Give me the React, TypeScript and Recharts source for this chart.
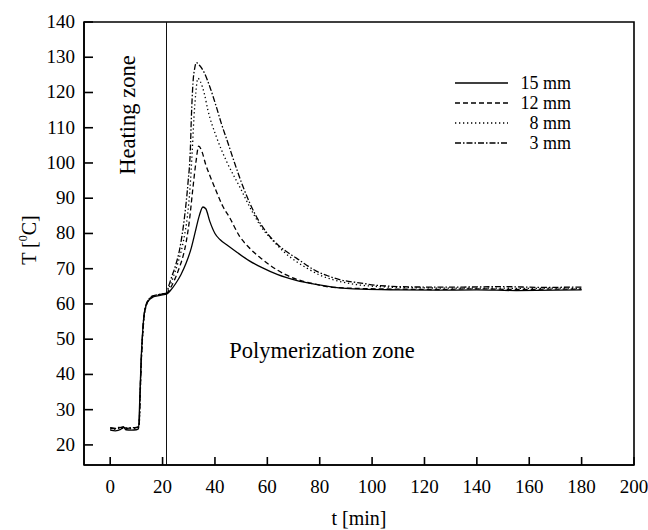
import { LineChart, Line, XAxis, YAxis, ReferenceLine, ReferenceArea, Customized } from "recharts";

const FONT = "'Liberation Serif', 'Times New Roman', serif";

// tick labels
const xTicks = [0, 20, 40, 60, 80, 100, 120, 140, 160, 180, 200];
const yTicks = [20, 30, 40, 50, 60, 70, 80, 90, 100, 110, 120, 130, 140];

// end of the heating zone [min]
const heatingEnd = 21.5;

// 15 mm
const t15 = [0, 2, 4, 5, 6, 8, 10, 10.8, 11.3, 11.8, 12.3, 12.8, 13.5, 14.5, 16, 18, 20, 21.5, 23, 25, 27, 29, 31, 32.5, 34, 35.4, 36.5, 38, 40, 42, 45, 48.5, 53, 58, 64, 71, 78, 85, 96, 110, 125, 140, 155, 170, 180];
const T15 = [24.2, 24.0, 24.4, 25.2, 24.3, 24.2, 24.3, 24.6, 33, 44, 51, 56, 59, 60.8, 61.8, 62.3, 62.6, 62.8, 63.8, 65.8, 68.3, 71.6, 76, 80.5, 85, 87.5, 87, 83.5, 80, 78.2, 76.5, 74.6, 72.3, 70.3, 68.3, 66.7, 65.6, 64.8, 64.2, 64.0, 63.9, 64.0, 63.8, 63.9, 64.0];

// 12 mm
const t12 = [0, 2, 4, 6, 8, 10, 11, 11.5, 12, 12.5, 13, 13.7, 14.7, 16, 18, 20, 21.5, 23, 24.6, 26.5, 27.8, 29, 30.3, 31.6, 32.7, 33.8, 35, 36.5, 38, 40.5, 43, 45.6, 49.4, 53, 57, 61, 67, 72, 76, 84, 95, 110, 125, 140, 155, 170, 180];
const T12 = [24.8, 24.6, 25.0, 24.7, 24.8, 24.9, 25.2, 36, 46, 52.5, 57, 59.5, 61.2, 62.1, 62.5, 62.8, 63, 64.5, 66.9, 70.5, 73.5, 77.5, 84, 93, 100, 104.8, 103.3, 99.5, 96.5, 92, 87.7, 84.5, 79.2, 76, 73.3, 71, 68.3, 66.8, 66, 64.8, 64.4, 64.2, 64.1, 64.3, 64.1, 64.2, 64.2];

// 8 mm
const t8 = [0, 2, 4, 6, 8, 10, 11, 11.5, 12, 12.5, 13, 13.7, 14.7, 16, 18, 20, 21.5, 22.5, 24, 26, 28, 29.5, 30.5, 31.3, 32, 32.7, 33.5, 34.5, 36, 37.3, 40.5, 44.4, 49.4, 54.5, 58, 62.1, 66, 71.1, 75, 80, 85, 90, 96, 103, 115, 130, 145, 160, 170, 180];
const T8 = [24.5, 24.4, 24.8, 24.5, 24.6, 24.7, 25, 35, 45.5, 52, 56.5, 59.3, 61, 62, 62.5, 62.8, 63, 64.6, 67.5, 72, 78, 85, 93, 103, 113, 120, 124, 123, 119.5, 115, 107.5, 100.5, 93.3, 85.8, 81.5, 78, 75, 72, 70.2, 68.2, 66.9, 66, 65.3, 64.9, 64.6, 64.5, 64.5, 64.4, 64.5, 64.4];

// 3 mm
const t3 = [0, 2, 4, 6, 8, 10, 11, 11.5, 12, 12.5, 13, 13.7, 14.7, 16, 18, 20, 21.5, 22.3, 23.4, 25, 26.5, 28.4, 29.7, 30.6, 31, 31.6, 32.3, 32.9, 34, 36, 38, 40.5, 42.4, 45, 47.5, 50.7, 55.8, 60, 64, 67, 71.1, 75, 78.7, 83, 87.6, 95, 103, 119, 135, 150, 165, 180];
const T3 = [24.9, 24.7, 25.1, 24.8, 24.9, 25, 25.3, 36.5, 46.5, 53, 57.3, 59.8, 61.3, 62.2, 62.6, 62.9, 63.1, 65, 67.5, 71, 75.4, 84.8, 94.3, 103.7, 113, 122.6, 127, 128.5, 127.8, 125.5, 121.7, 116, 111.3, 105.6, 100, 93.3, 84.8, 80, 76.8, 75, 73, 71, 69.3, 68, 66.9, 66, 65.2, 64.8, 64.8, 64.9, 64.7, 64.8];

const zip = (t: number[], T: number[]) => t.map((v, i) => ({ t: v, T: T[i] }));

const series = [
  { name: "15 mm", data: zip(t15, T15), dash: undefined as string | undefined },
  { name: "12 mm", data: zip(t12, T12), dash: "5 3" },
  { name: "8 mm", data: zip(t8, T8), dash: "1.3 2.7" },
  { name: "3 mm", data: zip(t3, T3), dash: "6 2 1.5 2" },
];

function XTick({ x, y, payload }: any) {
  return (
    <g>
      <line x1={x} x2={x} y1={y} y2={y - 8} stroke="#000" strokeWidth={1.6} />
      <text x={x} y={y + 28} textAnchor="middle" fontSize={19} fontFamily={FONT} fill="#000">
        {payload.value}
      </text>
    </g>
  );
}

function YTick({ x, y, payload }: any) {
  return (
    <g>
      <line x1={x} x2={x + 9} y1={y} y2={y} stroke="#000" strokeWidth={1.6} />
      <text x={x - 9} y={y + 6} textAnchor="end" fontSize={19} fontFamily={FONT} fill="#000">
        {payload.value}
      </text>
    </g>
  );
}

// legend and free text, drawn inside the chart svg
function Annotations() {
  return (
    <g fontFamily={FONT} fill="#000">
      {series.map((s, i) => (
        <g key={s.name}>
          <line x1={455} x2={508} y1={83 + i * 20} y2={83 + i * 20} stroke="#000" strokeWidth={1.3} strokeDasharray={s.dash} />
          <text x={571} y={83 + i * 20 + 6} fontSize={18} textAnchor="end">
            {s.name}
          </text>
        </g>
      ))}
      <text x={127} y={115} fontSize={22.5} textAnchor="middle" dominantBaseline="central" transform="rotate(-90 127 115)">
        Heating zone
      </text>
      <text x={322} y={358} fontSize={22.5} textAnchor="middle">
        Polymerization zone
      </text>
      <text x={359} y={525} fontSize={20} textAnchor="middle">
        t [min]
      </text>
      <text x={36} y={240} fontSize={20} textAnchor="middle" transform="rotate(-90 36 240)">
        T [<tspan fontSize={12} dy={-9}>0</tspan>
        <tspan dy={9}>C]</tspan>
      </text>
    </g>
  );
}

export default function App() {
  return (
    <div style={{ position: "absolute", left: 0, top: 0, width: 648, height: 530, background: "#fff" }}>
      <LineChart width={648} height={530} margin={{ top: 22, right: 14, left: 0, bottom: 0 }}>
        <XAxis
          dataKey="t"
          type="number"
          domain={[-10, 200]}
          ticks={xTicks}
          allowDataOverflow
          height={65}
          tickSize={0}
          tickMargin={0}
          tickLine={false}
          tick={<XTick />}
          axisLine={{ stroke: "#000", strokeWidth: 1.6 }}
        />
        <YAxis
          type="number"
          domain={[14.3, 140]}
          ticks={yTicks}
          allowDataOverflow
          width={84}
          tickSize={0}
          tickMargin={0}
          tickLine={false}
          tick={<YTick />}
          axisLine={{ stroke: "#000", strokeWidth: 1.6 }}
        />
        <ReferenceArea x1={-10} x2={200} y1={14.3} y2={140} fill="none" stroke="#000" strokeWidth={1.6} fillOpacity={0} />
        <ReferenceLine x={heatingEnd} stroke="#111" strokeWidth={1} />
        {series.map((s) => (
          <Line
            key={s.name}
            data={s.data}
            dataKey="T"
            name={s.name}
            type="monotone"
            stroke="#000"
            strokeWidth={1.3}
            strokeDasharray={s.dash}
            dot={false}
            isAnimationActive={false}
          />
        ))}
        <Customized component={<Annotations />} />
      </LineChart>
    </div>
  );
}
